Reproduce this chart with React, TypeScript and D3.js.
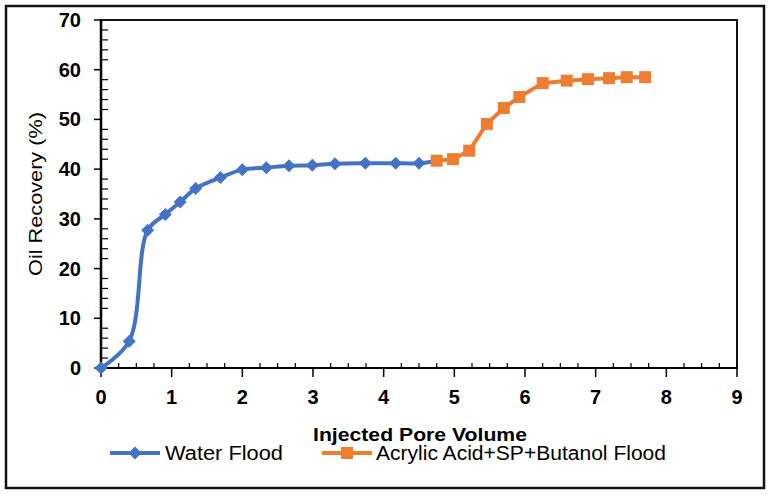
import React from "react";
import * as d3 from "d3";

const waterX = [0, 0.4, 0.66, 0.91, 1.12, 1.34, 1.69, 2.0, 2.34, 2.66, 2.99, 3.31, 3.74, 4.17, 4.5, 4.75];
const waterY = [0, 5.4, 27.7, 30.9, 33.4, 36.1, 38.3, 39.9, 40.3, 40.7, 40.8, 41.1, 41.2, 41.2, 41.2, 41.7];
const acrylX = [4.75, 4.98, 5.21, 5.46, 5.7, 5.92, 6.25, 6.59, 6.89, 7.19, 7.44, 7.7];
const acrylY = [41.7, 42.0, 43.7, 49.1, 52.3, 54.5, 57.3, 57.8, 58.1, 58.3, 58.5, 58.5];
const xTicks = [0, 1, 2, 3, 4, 5, 6, 7, 8, 9];
const yTicks = [0, 10, 20, 30, 40, 50, 60, 70];
const seriesNames = ["Water Flood", "Acrylic Acid+SP+Butanol Flood"];

const BLUE = "#4472C4";
const ORANGE = "#ED7D31";
const FONT = "'Liberation Sans', Arial, sans-serif";

export default function App() {
  const L = 101, R = 737, T = 20, B = 368;
  const x = d3.scaleLinear().domain([0, 9]).range([L, R]);
  const y = d3.scaleLinear().domain([0, 70]).range([B, T]);

  const water = waterX.map((v, i) => [v, waterY[i]] as [number, number]);
  const acryl = acrylX.map((v, i) => [v, acrylY[i]] as [number, number]);

  const smooth = d3.line<[number, number]>().x(d => x(d[0])).y(d => y(d[1])).curve(d3.curveCatmullRom.alpha(0.5));
  const straight = d3.line<[number, number]>().x(d => x(d[0])).y(d => y(d[1]));

  const xMinor = d3.range(0, 9.001, 0.25).filter(v => Math.abs(v - Math.round(v)) > 1e-6);
  const yMinor = d3.range(0, 70.001, 2).filter(v => v % 10 !== 0);

  const diamond = (cx: number, cy: number, r: number) =>
    `M${cx},${cy - r}L${cx + r},${cy}L${cx},${cy + r}L${cx - r},${cy}Z`;

  return (
    <svg width={772} height={497} style={{ position: "absolute", left: 0, top: 0 }}>
      <rect x={0} y={0} width={772} height={497} fill="#fff" />
      <rect x={6} y={6} width={758} height={482} fill="none" stroke="#111" strokeWidth={2.5} />
      {/* plot frame */}
      <rect x={L} y={T} width={R - L} height={B - T} fill="none" stroke="#111" strokeWidth={2} />
      {/* axes */}
      <line x1={L} x2={L} y1={T} y2={B} stroke="#000" strokeWidth={2.5} />
      <line x1={L} x2={R} y1={B} y2={B} stroke="#000" strokeWidth={2} />
      {yTicks.map(t => (
        <line key={"ym" + t} x1={L - 7} x2={L} y1={y(t)} y2={y(t)} stroke="#000" strokeWidth={1.5} />
      ))}
      {yMinor.map(t => (
        <line key={"yn" + t} x1={L} x2={L + 7} y1={y(t)} y2={y(t)} stroke="#000" strokeWidth={1.2} />
      ))}
      {xTicks.map(t => (
        <line key={"xm" + t} x1={x(t)} x2={x(t)} y1={B} y2={B + 9} stroke="#000" strokeWidth={1.5} />
      ))}
      {xMinor.map(t => (
        <line key={"xn" + t} x1={x(t)} x2={x(t)} y1={B - 5} y2={B} stroke="#000" strokeWidth={1.2} />
      ))}
      {yTicks.map(t => (
        <text key={"yl" + t} x={81} y={y(t) + 7} textAnchor="end" fontFamily={FONT} fontWeight="bold" fontSize={20} fill="#000">
          {t}
        </text>
      ))}
      {xTicks.map(t => (
        <text key={"xl" + t} x={x(t)} y={404} textAnchor="middle" fontFamily={FONT} fontWeight="bold" fontSize={20} fill="#000">
          {t}
        </text>
      ))}
      <text transform="translate(42,194) rotate(-90)" textAnchor="middle" fontFamily={FONT} fontSize={19} fill="#000" textLength={164} lengthAdjust="spacingAndGlyphs">
        Oil Recovery (%)
      </text>
      <text x={420} y={441} textAnchor="middle" fontFamily={FONT} fontWeight="bold" fontSize={18} fill="#000" textLength={214} lengthAdjust="spacingAndGlyphs">
        Injected Pore Volume
      </text>

      {/* series */}
      <path d={smooth(water) || ""} fill="none" stroke={BLUE} strokeWidth={4} strokeLinejoin="round" />
      {water.slice(0, -1).map((d, i) => (
        <path key={"wd" + i} d={diamond(x(d[0]), y(d[1]), 6.5)} fill={BLUE} />
      ))}
      <path d={straight(acryl) || ""} fill="none" stroke={ORANGE} strokeWidth={4} strokeLinejoin="round" />
      {acryl.map((d, i) => (
        <rect key={"as" + i} x={x(d[0]) - 6} y={y(d[1]) - 6} width={12} height={12} fill={ORANGE} />
      ))}

      {/* legend */}
      <line x1={110} x2={160} y1={453} y2={453} stroke={BLUE} strokeWidth={4} />
      <path d={diamond(135, 453, 6.5)} fill={BLUE} />
      <text x={165} y={460} fontFamily={FONT} fontSize={20} fill="#000" textLength={118} lengthAdjust="spacingAndGlyphs">
        {seriesNames[0]}
      </text>
      <line x1={322} x2={372} y1={453} y2={453} stroke={ORANGE} strokeWidth={4} />
      <rect x={341} y={447} width={12} height={12} fill={ORANGE} />
      <text x={376} y={460} fontFamily={FONT} fontSize={20} fill="#000" textLength={290} lengthAdjust="spacingAndGlyphs">
        {seriesNames[1]}
      </text>
    </svg>
  );
}
